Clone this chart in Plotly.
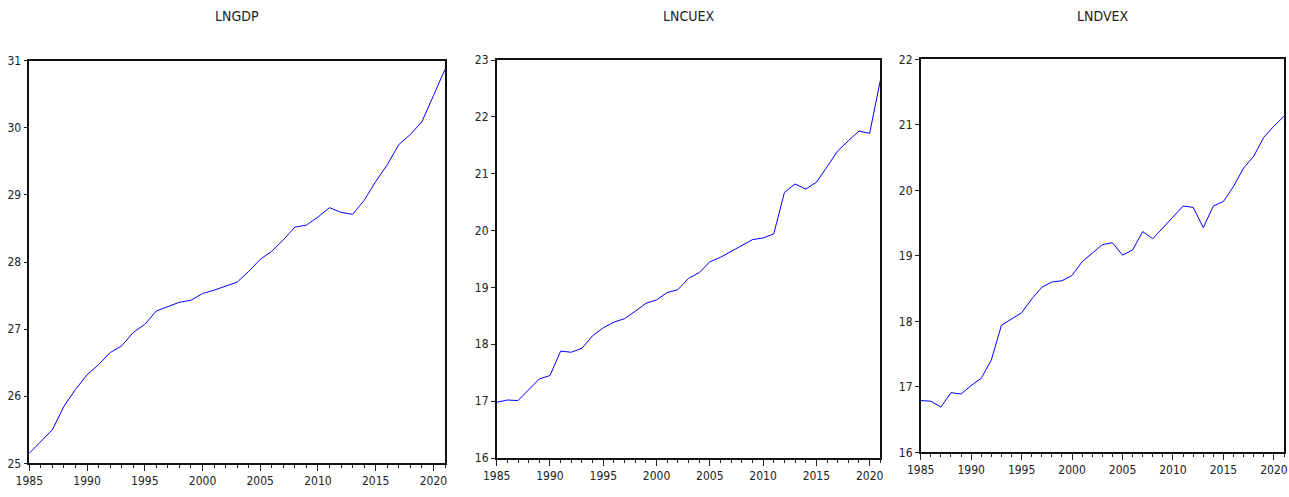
import plotly.graph_objects as go

years = list(range(1985, 2022))

lngdp = [25.15, 25.32, 25.50, 25.85, 26.10, 26.32, 26.47, 26.65, 26.75, 26.95,
         27.07, 27.27, 27.34, 27.40, 27.43, 27.53, 27.58, 27.64, 27.70, 27.86,
         28.04, 28.16, 28.33, 28.52, 28.55, 28.67, 28.81, 28.74, 28.71, 28.92,
         29.20, 29.45, 29.75, 29.90, 30.09, 30.48, 30.87]

lncuex = [16.98, 17.02, 17.01, 17.20, 17.39, 17.45, 17.88, 17.86, 17.93, 18.15,
          18.29, 18.39, 18.45, 18.58, 18.72, 18.78, 18.91, 18.96, 19.16, 19.26,
          19.45, 19.53, 19.63, 19.74, 19.84, 19.87, 19.94, 20.67, 20.82, 20.73,
          20.85, 21.12, 21.40, 21.58, 21.75, 21.71, 22.64]

lndvex = [16.79, 16.78, 16.69, 16.91, 16.89, 17.02, 17.13, 17.41, 17.94, 18.04,
          18.13, 18.34, 18.52, 18.60, 18.62, 18.70, 18.91, 19.04, 19.17, 19.20,
          19.01, 19.09, 19.37, 19.26, 19.43, 19.60, 19.76, 19.74, 19.43, 19.76,
          19.83, 20.06, 20.34, 20.52, 20.81, 20.98, 21.13]

titles = ["LNGDP", "LNCUEX", "LNDVEX"]
series = [lngdp, lncuex, lndvex]
y_ranges = [(25, 31), (16, 23), (16, 22)]
x_ticks = [1985, 1990, 1995, 2000, 2005, 2010, 2015, 2020]

W, H = 1289, 497
# pixel boxes: left, right, top, bottom
boxes = [(29.3, 445.0, 60.7, 463.3),
         (496.7, 880.3, 60.0, 458.0),
         (920.7, 1284.0, 59.3, 452.3)]

FONT = "DejaVu Sans Condensed, Liberation Sans Narrow, sans-serif"

fig = go.Figure()
layout = dict(
    width=W, height=H,
    margin=dict(l=0, r=0, t=0, b=0),
    paper_bgcolor="white", plot_bgcolor="white",
    showlegend=False,
    font=dict(family=FONT, size=12, color="#222"),
    annotations=[],
)

for i, (title, vals, yr, box) in enumerate(zip(titles, series, y_ranges, boxes)):
    n = "" if i == 0 else str(i + 1)
    l, r, t, b = box
    fig.add_trace(go.Scatter(x=years, y=vals, mode="lines",
                             line=dict(color="#0000ff", width=1),
                             xaxis="x" + n, yaxis="y" + n,
                             hoverinfo="skip"))
    layout["xaxis" + n] = dict(
        domain=[l / W, r / W], anchor="y" + n, automargin=False,
        range=[1985, 2021], tickvals=x_ticks,
        ticks="outside", ticklen=6, tickcolor="#222", tickwidth=1,
        minor=dict(dtick=1, tick0=1985, ticks="outside", ticklen=3,
                   tickcolor="#222", tickwidth=1),
        showgrid=False, zeroline=False,
        showline=True, linecolor="#111", linewidth=1.5, mirror=True,
        tickfont=dict(family=FONT, size=12, color="#222"),
    )
    layout["yaxis" + n] = dict(
        domain=[1 - b / H, 1 - t / H], anchor="x" + n, automargin=False,
        range=list(yr), dtick=1,
        ticks="outside", ticklen=4, tickcolor="#222", tickwidth=1,
        showgrid=False, zeroline=False,
        showline=True, linecolor="#111", linewidth=1.5, mirror=True,
        tickfont=dict(family=FONT, size=12, color="#222"),
    )
    layout["annotations"].append(dict(
        text=title, x=(l + r) / 2 / W, y=1 - 16 / H,
        xref="paper", yref="paper", xanchor="center", yanchor="middle",
        showarrow=False, font=dict(family=FONT, size=14, color="#222"),
    ))

fig.update_layout(**layout)
fig.write_html(
    "out.html",
    config={"displayModeBar": False},
    post_script="document.body.style.margin='0';document.body.style.overflow='hidden';",
)
